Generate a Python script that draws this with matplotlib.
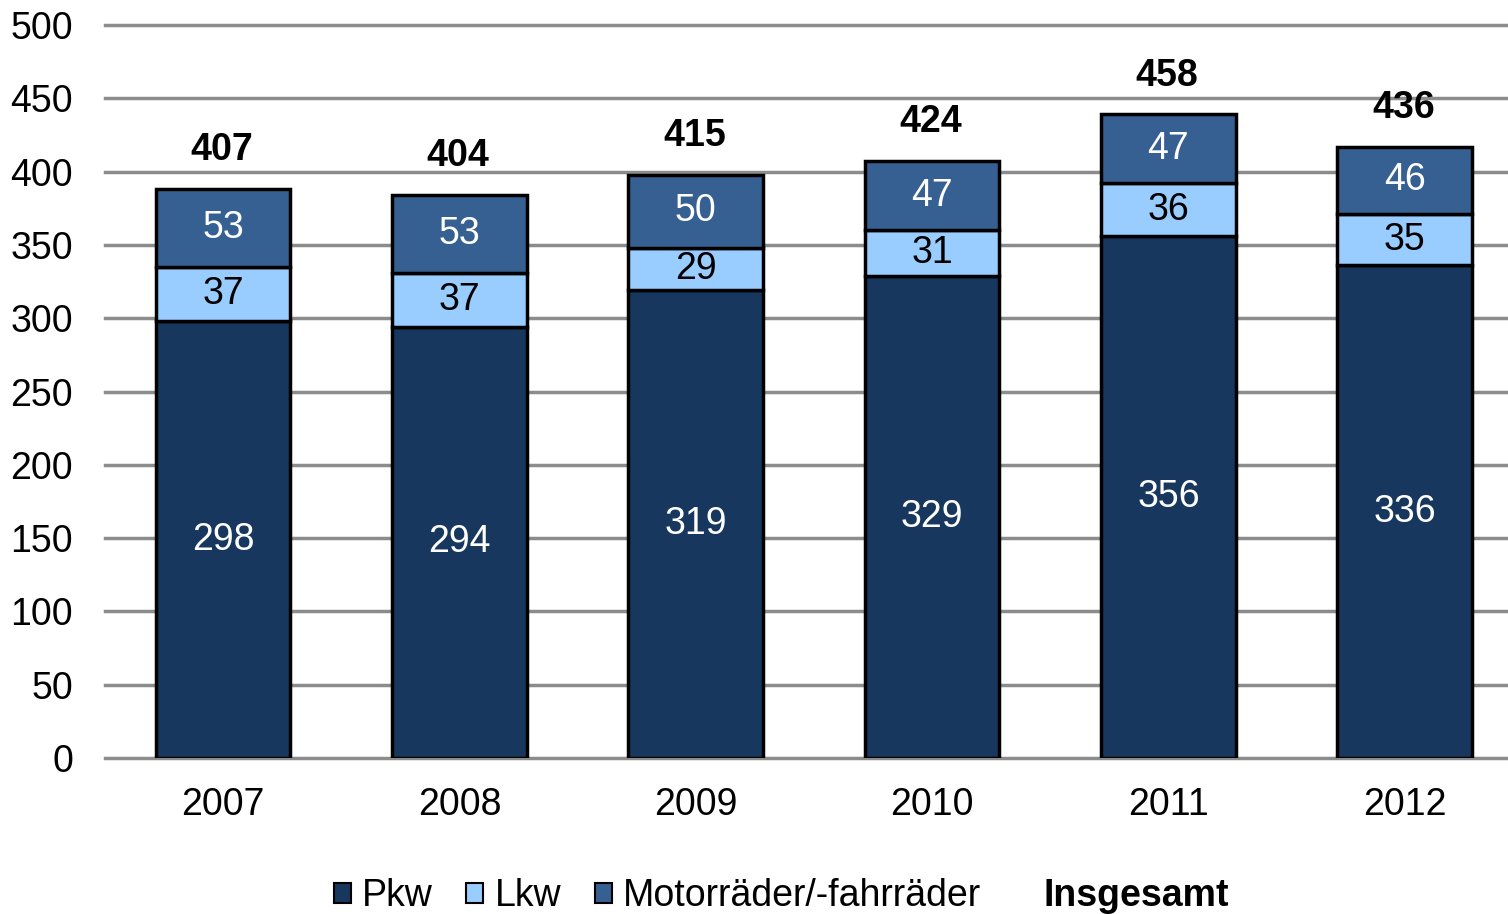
import matplotlib
matplotlib.use("Agg")
import matplotlib.pyplot as plt
from matplotlib.patches import Patch
import numpy as np

# --- data ---
jahre = ["2007", "2008", "2009", "2010", "2011", "2012"]
pkw = [298, 294, 319, 329, 356, 336]
lkw = [37, 37, 29, 31, 36, 35]
motorraeder = [53, 53, 50, 47, 47, 46]
insgesamt = [407, 404, 415, 424, 458, 436]

c_pkw = "#17375e"
c_lkw = "#99ccff"
c_mot = "#376092"

plt.rcParams["font.family"] = ["Liberation Sans", "DejaVu Sans"]

fig = plt.figure(figsize=(15.08, 9.14), dpi=100)
# plot area runs a little past the right edge of the image, as in the original
ax = fig.add_axes([0.0696, 0.1707, 0.9403, 0.8019])

x = np.arange(len(jahre))
w = 0.57
pkw_a = np.array(pkw)
lkw_a = np.array(lkw)
mot_a = np.array(motorraeder)

ax.bar(x, pkw_a, w, color=c_pkw, edgecolor="black", linewidth=2.5, zorder=3)
ax.bar(x, lkw_a, w, bottom=pkw_a, color=c_lkw, edgecolor="black", linewidth=2.5, zorder=3)
ax.bar(x, mot_a, w, bottom=pkw_a + lkw_a, color=c_mot, edgecolor="black", linewidth=2.5, zorder=3)

fs = 27
for i in range(len(jahre)):
    ax.text(x[i], pkw_a[i] / 2, str(pkw[i]), ha="center", va="center", color="white", fontsize=fs, zorder=4)
    ax.text(x[i], pkw_a[i] + lkw_a[i] / 2, str(lkw[i]), ha="center", va="center", color="black", fontsize=fs, zorder=4)
    ax.text(x[i], pkw_a[i] + lkw_a[i] + mot_a[i] / 2, str(motorraeder[i]), ha="center", va="center",
            color="white", fontsize=fs, zorder=4)
    top = pkw_a[i] + lkw_a[i] + mot_a[i]
    ax.annotate(str(insgesamt[i]), (x[i], top), xytext=(-1, 28), textcoords="offset points",
                ha="center", va="center", fontsize=fs, fontweight="bold", zorder=4)

ax.set_xlim(-0.5, len(jahre) - 0.5)
ax.set_ylim(0, 500)
ax.set_yticks(range(0, 501, 50))
ax.set_xticks(x)
ax.set_xticklabels(jahre)
ax.yaxis.grid(True, color="#8c8c8c", linewidth=2.5, zorder=0)
for gl in ax.get_ygridlines():
    gl.set_clip_on(False)
ax.set_axisbelow(True)
for s in ax.spines.values():
    s.set_visible(False)
ax.tick_params(axis="y", length=0, pad=23, labelsize=fs)
ax.tick_params(axis="x", length=0, pad=21, labelsize=fs)

handles = [
    Patch(facecolor=c_pkw, edgecolor="black", linewidth=1.5),
    Patch(facecolor=c_lkw, edgecolor="black", linewidth=1.5),
    Patch(facecolor=c_mot, edgecolor="black", linewidth=1.5),
    Patch(facecolor="none", edgecolor="none"),
]
leg = fig.legend(handles, ["Pkw", "Lkw", "Motorräder/-fahrräder", "Insgesamt"],
                 loc="lower center", bbox_to_anchor=(0.518, -0.037), ncol=4, frameon=False,
                 fontsize=fs, handlelength=0.45, handleheight=0.45, handletextpad=0.3,
                 columnspacing=0.9)
leg.get_texts()[3].set_fontweight("bold")

fig.savefig("out.png", dpi=100)
